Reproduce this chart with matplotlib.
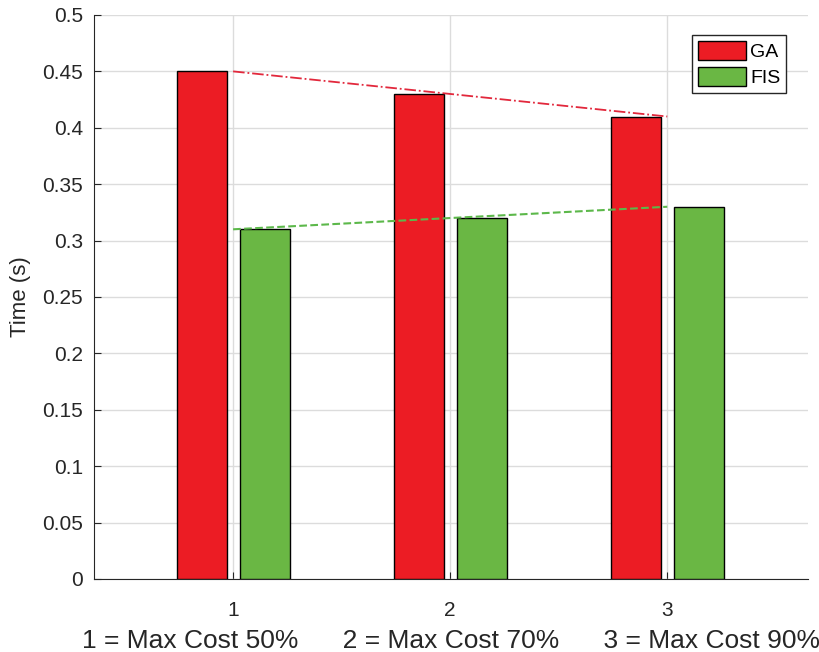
import matplotlib.pyplot as plt
import numpy as np

plt.rcParams['font.family'] = ['Liberation Sans', 'DejaVu Sans']

cases = [1, 2, 3]
ga_time = [0.45, 0.43, 0.41]
fis_time = [0.31, 0.32, 0.33]
cost_labels = ['1 = Max Cost 50%', '2 = Max Cost 70%', '3 = Max Cost 90%']

fig = plt.figure(figsize=(8.19, 6.52), dpi=100)
ax = fig.add_axes([0.115, 0.112, 0.872, 0.865])

x = np.array(cases)
w = 0.23
ax.bar(x - 0.145, ga_time, w, color='#ec1c24', edgecolor='black', linewidth=1, label='GA', zorder=3)
ax.bar(x + 0.145, fis_time, w, color='#6ab744', edgecolor='black', linewidth=1, label='FIS', zorder=3)

# trend lines between first and last case
ax.plot([x[0], x[-1]], [ga_time[0], ga_time[-1]], color='#e2283c', ls='-.', lw=1.3, zorder=4)
ax.plot([x[0], x[-1]], [fis_time[0], fis_time[-1]], color='#5cb84a', ls='--', lw=1.5, zorder=4)

ax.set_xlim(0.36, 3.65)
ax.set_ylim(0, 0.5)
ax.set_xticks(cases)
ax.set_xticklabels([str(c) for c in cases])
ax.set_yticks(np.arange(0, 0.501, 0.05))
ax.set_yticklabels(['0', '0.05', '0.1', '0.15', '0.2', '0.25', '0.3', '0.35', '0.4', '0.45', '0.5'])
ax.tick_params(direction='in', length=5, labelsize=15, colors='#262626')
ax.tick_params(axis='y', pad=8)
ax.tick_params(axis='x', pad=16)
ax.grid(True, color='#dcdcdc', lw=1, zorder=0)
ax.set_axisbelow(True)
for s in ['top', 'right']:
    ax.spines[s].set_visible(False)
for s in ['left', 'bottom']:
    ax.spines[s].set_color('#262626')

ax.set_ylabel('Time (s)', fontsize=16, color='#262626', labelpad=8)
ax.set_xlabel('      '.join(cost_labels), fontsize=19, color='#262626', labelpad=6)

leg = ax.legend(loc='upper right', bbox_to_anchor=(0.969, 0.965), borderaxespad=0, fontsize=14,
                fancybox=False, framealpha=1, edgecolor='#262626', handlelength=2.5,
                handleheight=1.15, handletextpad=0.2, borderpad=0.3, labelspacing=0.3)

fig.savefig('out.png', dpi=100)
